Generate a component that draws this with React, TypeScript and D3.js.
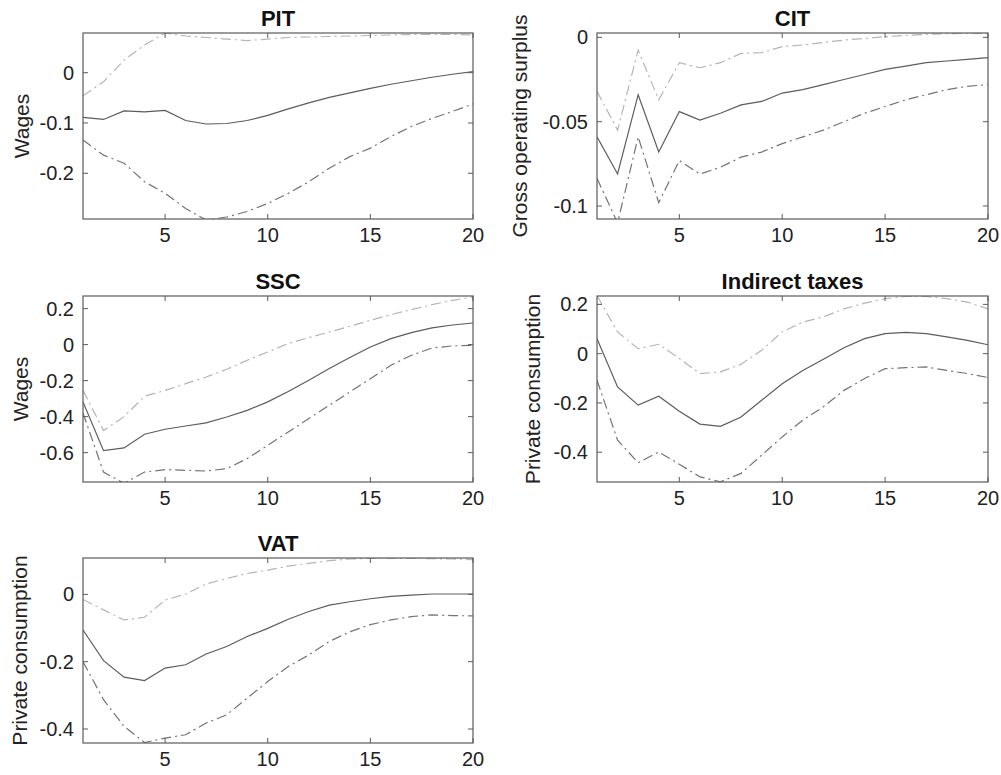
import React from "react";
import * as d3 from "d3";

// horizon (quarters)
const steps = [1, 2, 3, 4, 5, 6, 7, 8, 9, 10, 11, 12, 13, 14, 15, 16, 17, 18, 19, 20];
const xTicks = [5, 10, 15, 20];

// PIT -> wages
const pitMean = [-0.089, -0.093, -0.076, -0.078, -0.075, -0.095, -0.102, -0.101, -0.095, -0.085, -0.072, -0.06, -0.049, -0.04, -0.031, -0.023, -0.016, -0.009, -0.003, 0.002];
const pitUpper = [-0.046, -0.018, 0.025, 0.055, 0.079, 0.073, 0.07, 0.067, 0.064, 0.067, 0.07, 0.071, 0.072, 0.073, 0.074, 0.075, 0.076, 0.076, 0.076, 0.075];
const pitLower = [-0.134, -0.164, -0.18, -0.217, -0.24, -0.27, -0.293, -0.287, -0.276, -0.26, -0.24, -0.217, -0.19, -0.167, -0.15, -0.127, -0.107, -0.091, -0.077, -0.062];

// CIT -> gross operating surplus
const citMean = [-0.059, -0.081, -0.034, -0.068, -0.044, -0.049, -0.045, -0.04, -0.038, -0.033, -0.031, -0.028, -0.025, -0.022, -0.019, -0.017, -0.015, -0.014, -0.013, -0.012];
const citUpper = [-0.032, -0.055, -0.0075, -0.037, -0.015, -0.018, -0.015, -0.0095, -0.009, -0.0055, -0.0045, -0.003, -0.0016, -0.0006, 0.0004, 0.0012, 0.0018, 0.0022, 0.0024, 0.0024];
const citLower = [-0.0836, -0.11, -0.059, -0.098, -0.073, -0.081, -0.077, -0.071, -0.068, -0.063, -0.059, -0.055, -0.05, -0.045, -0.041, -0.037, -0.034, -0.031, -0.029, -0.028];

// SSC -> wages
const sscMean = [-0.319, -0.589, -0.574, -0.498, -0.47, -0.452, -0.435, -0.402, -0.365, -0.318, -0.26, -0.198, -0.133, -0.072, -0.013, 0.033, 0.067, 0.093, 0.109, 0.12];
const sscUpper = [-0.254, -0.477, -0.4, -0.287, -0.254, -0.217, -0.18, -0.137, -0.087, -0.041, 0.006, 0.039, 0.07, 0.102, 0.135, 0.167, 0.194, 0.222, 0.246, 0.265];
const sscLower = [-0.38, -0.708, -0.77, -0.708, -0.694, -0.698, -0.702, -0.689, -0.633, -0.559, -0.485, -0.411, -0.337, -0.263, -0.189, -0.115, -0.059, -0.019, -0.007, -0.004];

// indirect taxes -> private consumption
const indMean = [0.061, -0.135, -0.209, -0.173, -0.234, -0.286, -0.295, -0.257, -0.189, -0.122, -0.068, -0.023, 0.024, 0.061, 0.081, 0.086, 0.081, 0.068, 0.054, 0.036];
const indUpper = [0.236, 0.088, 0.02, 0.038, -0.02, -0.081, -0.074, -0.043, 0.0135, 0.088, 0.128, 0.149, 0.182, 0.205, 0.223, 0.232, 0.232, 0.223, 0.209, 0.182];
const indLower = [-0.108, -0.351, -0.443, -0.399, -0.449, -0.5, -0.52, -0.486, -0.412, -0.338, -0.27, -0.216, -0.149, -0.101, -0.061, -0.057, -0.054, -0.068, -0.081, -0.097];

// VAT -> private consumption
const vatMean = [-0.106, -0.197, -0.246, -0.256, -0.219, -0.209, -0.177, -0.155, -0.125, -0.101, -0.074, -0.051, -0.032, -0.022, -0.013, -0.006, -0.002, 0.001, 0.001, 0.001];
const vatUpper = [-0.015, -0.046, -0.076, -0.068, -0.017, 0.001, 0.031, 0.047, 0.062, 0.072, 0.084, 0.092, 0.1, 0.105, 0.107, 0.107, 0.107, 0.106, 0.105, 0.103];
const vatLower = [-0.2, -0.313, -0.392, -0.44, -0.427, -0.417, -0.382, -0.358, -0.308, -0.259, -0.214, -0.18, -0.14, -0.111, -0.09, -0.076, -0.066, -0.061, -0.063, -0.064];

const panels = [
  { title: "PIT", ylabel: "Wages", mean: pitMean, upper: pitUpper, lower: pitLower, yDomain: [-0.291, 0.079], yTicks: [-0.2, -0.1, 0] },
  { title: "CIT", ylabel: "Gross operating surplus", mean: citMean, upper: citUpper, lower: citLower, yDomain: [-0.1077, 0.0026], yTicks: [-0.1, -0.05, 0] },
  { title: "SSC", ylabel: "Wages", mean: sscMean, upper: sscUpper, lower: sscLower, yDomain: [-0.763, 0.27], yTicks: [-0.6, -0.4, -0.2, 0, 0.2] },
  { title: "Indirect taxes", ylabel: "Private consumption", mean: indMean, upper: indUpper, lower: indLower, yDomain: [-0.521, 0.234], yTicks: [-0.4, -0.2, 0, 0.2] },
  { title: "VAT", ylabel: "Private consumption", mean: vatMean, upper: vatUpper, lower: vatLower, yDomain: [-0.4415, 0.108], yTicks: [-0.4, -0.2, 0] },
];

// plot boxes (left, top, right, bottom) and y label offsets
const boxes = [
  { l: 83, t: 33, r: 473, b: 219, lab: 54 },
  { l: 597, t: 33, r: 988, b: 219, lab: 70 },
  { l: 83, t: 296, r: 473, b: 482, lab: 55 },
  { l: 597, t: 296, r: 988, b: 482, lab: 57 },
  { l: 83, t: 558, r: 473, b: 743, lab: 56 },
];

const FONT = "'Liberation Sans', Arial, Helvetica, sans-serif";
const AXIS = "#5a5a5a";
const TICK = 5;

function Panel({ p, box, idx }: any) {
  const x = d3.scaleLinear().domain([1, 20]).range([box.l, box.r]);
  const y = d3.scaleLinear().domain(p.yDomain).range([box.b, box.t]);
  const line = d3
    .line<number>()
    .x((d, i) => x(steps[i]))
    .y((d) => y(d));
  const clipId = `clip${idx}`;
  const cy = (box.t + box.b) / 2;

  return (
    <g>
      <defs>
        <clipPath id={clipId}>
          <rect x={box.l} y={box.t} width={box.r - box.l} height={box.b - box.t} />
        </clipPath>
      </defs>
      <g clipPath={`url(#${clipId})`} fill="none" strokeWidth={1.2}>
        <path d={line(p.upper) || ""} stroke="#b5b5b5" strokeDasharray="10,4,2,4" />
        <path d={line(p.lower) || ""} stroke="#747474" strokeDasharray="10,4,2,4" />
        <path d={line(p.mean) || ""} stroke="#5c5c5c" />
      </g>
      {/* box */}
      <rect x={box.l} y={box.t} width={box.r - box.l} height={box.b - box.t} fill="none" stroke={AXIS} strokeWidth={1.2} />
      {/* x ticks */}
      {xTicks.map((t) => (
        <g key={"x" + t}>
          <line x1={x(t)} x2={x(t)} y1={box.b} y2={box.b - TICK} stroke={AXIS} />
          <line x1={x(t)} x2={x(t)} y1={box.t} y2={box.t + TICK} stroke={AXIS} />
          <text x={x(t)} y={box.b + 23} textAnchor="middle" fontSize={20} fontFamily={FONT} fill="#222">
            {t}
          </text>
        </g>
      ))}
      {/* y ticks */}
      {p.yTicks.map((t: number) => (
        <g key={"y" + t}>
          <line x1={box.l} x2={box.l + TICK} y1={y(t)} y2={y(t)} stroke={AXIS} />
          <line x1={box.r} x2={box.r - TICK} y1={y(t)} y2={y(t)} stroke={AXIS} />
          <text x={box.l - 9} y={y(t) + 7} textAnchor="end" fontSize={20} fontFamily={FONT} fill="#222">
            {String(t)}
          </text>
        </g>
      ))}
      <text x={(box.l + box.r) / 2} y={box.t - 7} textAnchor="middle" fontSize={22} fontWeight="bold" fontFamily={FONT} fill="#111">
        {p.title}
      </text>
      <text
        transform={`translate(${box.l - box.lab},${cy}) rotate(-90)`}
        textAnchor="middle"
        fontSize={21}
        fontFamily={FONT}
        fill="#222"
      >
        {p.ylabel}
      </text>
    </g>
  );
}

export default function App() {
  return (
    <svg
      width={1001}
      height={775}
      style={{ position: "absolute", left: 0, top: 0, background: "#fff" }}
    >
      <rect width={1001} height={775} fill="#fff" />
      {panels.map((p, i) => (
        <Panel key={p.title} p={p} box={boxes[i]} idx={i} />
      ))}
    </svg>
  );
}
